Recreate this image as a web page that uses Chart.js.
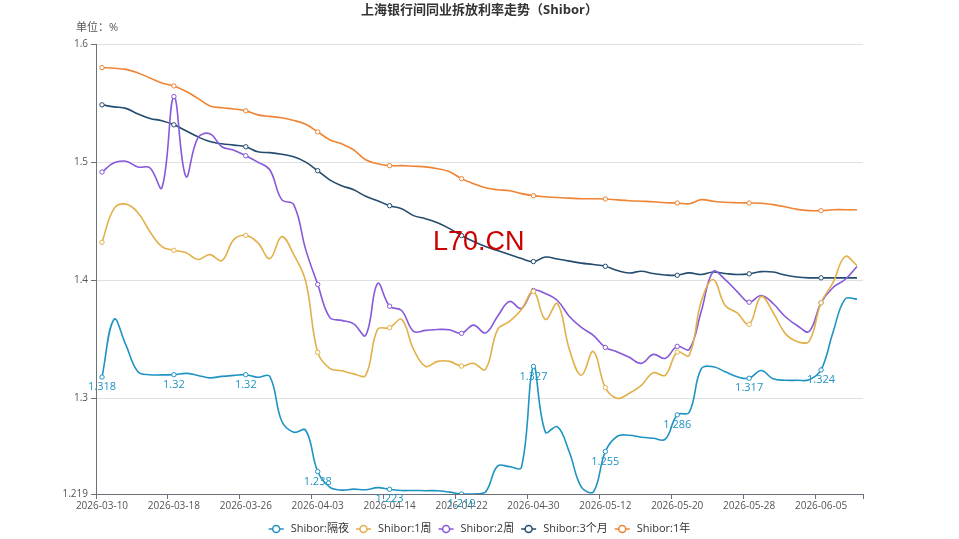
<!DOCTYPE html>
<html>
<head>
<meta charset="utf-8">
<script src="https://cdn.jsdelivr.net/npm/chart.js@4/dist/chart.umd.min.js"></script>
<style>
    html, body { margin: 0; padding: 0; background: #fff; }
    canvas { display: block; }
</style>
</head>
<body>
<canvas id="shibor" width="959" height="539"></canvas>
<script>
var FONT = '"Open Sans", "Noto Sans CJK SC", sans-serif';

var dates = ['2026-03-10','2026-03-11','2026-03-12','2026-03-13','2026-03-16','2026-03-17','2026-03-18','2026-03-19','2026-03-20','2026-03-23',
    '2026-03-24','2026-03-25','2026-03-26','2026-03-27','2026-03-30','2026-03-31','2026-04-01','2026-04-02','2026-04-03','2026-04-07',
    '2026-04-08','2026-04-09','2026-04-10','2026-04-13','2026-04-14','2026-04-15','2026-04-16','2026-04-17','2026-04-20','2026-04-21',
    '2026-04-22','2026-04-23','2026-04-24','2026-04-27','2026-04-28','2026-04-29','2026-04-30','2026-05-06','2026-05-07','2026-05-08',
    '2026-05-09','2026-05-11','2026-05-12','2026-05-13','2026-05-14','2026-05-15','2026-05-18','2026-05-19','2026-05-20','2026-05-21',
    '2026-05-22','2026-05-25','2026-05-26','2026-05-27','2026-05-28','2026-05-29','2026-06-01','2026-06-02','2026-06-03','2026-06-04',
    '2026-06-05','2026-06-08','2026-06-09','2026-06-10'];

var overnight = [1.318,1.3668,1.345,1.3225,1.3199,1.3199,1.32,1.3211,1.3194,1.3173,
    1.3186,1.3194,1.32,1.3178,1.3186,1.2806,1.2713,1.273,1.238,1.2248,
    1.2223,1.2231,1.2226,1.2244,1.223,1.2219,1.222,1.2218,1.2218,1.2206,
    1.219,1.219,1.2206,1.2426,1.2422,1.2417,1.327,1.2713,1.276,1.2544,
    1.2248,1.2206,1.255,1.2679,1.2687,1.267,1.2662,1.2654,1.286,1.2882,
    1.325,1.3267,1.3225,1.3183,1.317,1.3235,1.3165,1.3153,1.3153,1.3157,
    1.324,1.356,1.384,1.384];

var week1 = [1.4321,1.4606,1.4644,1.4572,1.4411,1.4285,1.4253,1.4234,1.4175,1.4217,
    1.4166,1.4344,1.438,1.4318,1.4183,1.4369,1.4217,1.3989,1.3389,1.3254,
    1.3233,1.3207,1.3195,1.3583,1.3598,1.3668,1.3414,1.327,1.3313,1.3313,
    1.3273,1.3296,1.3245,1.358,1.3651,1.3752,1.3906,1.3668,1.3803,1.3414,
    1.3195,1.3397,1.3091,1.3,1.3043,1.311,1.3216,1.3195,1.3392,1.3364,
    1.382,1.4006,1.3786,1.3723,1.3626,1.3862,1.3727,1.355,1.3482,1.3482,
    1.3809,1.398,1.42,1.4124];

var week2 = [1.4916,1.4994,1.5007,1.4958,1.4952,1.4783,1.5555,1.4879,1.5206,1.524,
    1.513,1.51,1.5054,1.5,1.4935,1.4682,1.464,1.4259,1.3964,1.3685,
    1.366,1.3631,1.3533,1.3972,1.378,1.3744,1.3567,1.3575,1.3583,1.358,
    1.355,1.362,1.3554,1.3693,1.382,1.3761,1.3913,1.3887,1.3828,1.3693,
    1.36,1.3533,1.3431,1.3393,1.3347,1.3296,1.3372,1.3338,1.344,1.3414,
    1.3735,1.4073,1.4006,1.3904,1.3814,1.3871,1.3803,1.3693,1.3617,1.3566,
    1.3809,1.3938,1.4006,1.4116];

var month3 = [1.5485,1.5468,1.5455,1.5408,1.537,1.535,1.5316,1.5265,1.5214,1.5174,
    1.5155,1.5144,1.513,1.5087,1.508,1.5066,1.5045,1.5,1.4927,1.485,
    1.48,1.4766,1.4711,1.4673,1.4631,1.4606,1.4547,1.4521,1.4487,1.4437,
    1.4378,1.4327,1.4285,1.4251,1.4217,1.4183,1.4158,1.4196,1.4179,1.4162,
    1.4145,1.4133,1.4118,1.4082,1.4061,1.4076,1.4057,1.4044,1.4042,1.4062,
    1.4048,1.4069,1.4057,1.4048,1.4054,1.4073,1.4069,1.4044,1.4027,1.402,
    1.402,1.402,1.402,1.402];

var year1 = [1.58,1.5795,1.5785,1.5755,1.5713,1.567,1.5645,1.56,1.554,1.5476,
    1.546,1.545,1.5434,1.54,1.5387,1.5375,1.5353,1.532,1.5256,1.519,
    1.5155,1.5104,1.502,1.4986,1.497,1.497,1.4965,1.496,1.4944,1.4918,
    1.486,1.4817,1.4783,1.4766,1.4758,1.4733,1.4716,1.4707,1.47,1.4695,
    1.469,1.469,1.4688,1.468,1.4673,1.4669,1.4665,1.4656,1.4654,1.4648,
    1.4682,1.4669,1.466,1.4656,1.4654,1.4652,1.464,1.4622,1.46,1.4589,
    1.4589,1.4597,1.4597,1.4597];

var seriesNames = ['Shibor:隔夜', 'Shibor:1周', 'Shibor:2周', 'Shibor:3个月', 'Shibor:1年'];
var seriesColors = ['#1f93c2', '#e2b04a', '#8659d9', '#244c6e', '#ee8434'];
var yTicks = [1.219, 1.3, 1.4, 1.5, 1.6];
var labelStep = 6;

function makeDataset(i, values) {
    return {
        label: seriesNames[i],
        data: values,
        borderColor: seriesColors[i],
        backgroundColor: seriesColors[i],
        borderWidth: 1.6,
        tension: 0.4,
        fill: false,
        pointRadius: function (c) { return c.dataIndex % labelStep === 0 ? 2.2 : 0; },
        pointHoverRadius: 0,
        pointBackgroundColor: '#fff',
        pointBorderColor: seriesColors[i],
        pointBorderWidth: 1
    };
}

var decor = {
    id: 'decor',
    afterDraw: function (chart) {
        var ctx = chart.ctx;
        ctx.save();

        // title and unit
        ctx.fillStyle = '#333';
        ctx.font = 'bold 13px ' + FONT;
        ctx.textAlign = 'center';
        ctx.textBaseline = 'middle';
        ctx.fillText('上海银行间同业拆放利率走势（Shibor）', 479.5, 10);
        ctx.fillStyle = '#555';
        ctx.font = '11px ' + FONT;
        ctx.textAlign = 'left';
        ctx.fillText('单位：%', 76, 28);

        // value labels on the overnight series
        var meta = chart.getDatasetMeta(0);
        ctx.font = '11px ' + FONT;
        ctx.fillStyle = seriesColors[0];
        ctx.textAlign = 'center';
        meta.data.forEach(function (pt, i) {
            if (i % labelStep === 0) {
                ctx.fillText(String(overnight[i]), pt.x, pt.y + 10);
            }
        });

        // watermark
        ctx.fillStyle = '#cc0000';
        ctx.font = '27px "Liberation Sans", sans-serif';
        ctx.textAlign = 'left';
        ctx.textBaseline = 'alphabetic';
        ctx.fillText('L70.CN', 433, 250);

        // legend
        ctx.font = '11px ' + FONT;
        ctx.textBaseline = 'middle';
        var iconW = 15, gap = 7, itemGap = 7, ly = 529;
        var widths = seriesNames.map(function (n) { return ctx.measureText(n).width; });
        var total = widths.reduce(function (a, w) { return a + iconW + gap + w; }, 0) + itemGap * (seriesNames.length - 1);
        var x = 479.5 - total / 2;
        seriesNames.forEach(function (n, i) {
            ctx.strokeStyle = seriesColors[i];
            ctx.lineWidth = 1.5;
            ctx.beginPath();
            ctx.moveTo(x, ly);
            ctx.lineTo(x + iconW, ly);
            ctx.stroke();
            ctx.beginPath();
            ctx.arc(x + iconW / 2, ly, 3.5, 0, Math.PI * 2);
            ctx.fillStyle = '#fff';
            ctx.fill();
            ctx.stroke();
            ctx.fillStyle = '#333';
            ctx.fillText(n, x + iconW + gap, ly);
            x += iconW + gap + widths[i] + itemGap;
        });
        ctx.restore();
    }
};

function xTickColor(c) {
    if (c.type !== 'tick' || c.index % labelStep === 0) {
        return '#6e7079';
    }
    return 'rgba(0,0,0,0)';
}

const graphic = new Chart(document.getElementById('shibor'), {
    type: 'line',
    data: {
        labels: dates,
        datasets: [
            makeDataset(0, overnight),
            makeDataset(1, week1),
            makeDataset(2, week2),
            makeDataset(3, month3),
            makeDataset(4, year1)
        ]
    },
    options: {
        responsive: false,
        animation: false,
        devicePixelRatio: 1,
        layout: {
            padding: {left: 0, right: 96, top: 44, bottom: 15}
        },
        plugins: {
            legend: {display: false},
            tooltip: {enabled: false}
        },
        scales: {
            x: {
                offset: true,
                grid: {
                    offset: true,
                    drawOnChartArea: false,
                    tickLength: 5,
                    color: xTickColor,
                    tickColor: xTickColor
                },
                border: {color: '#6e7079'},
                ticks: {
                    autoSkip: false,
                    maxRotation: 0,
                    padding: 1,
                    color: '#555',
                    font: {family: FONT, size: 10},
                    callback: function (v, i) {
                        return i % labelStep === 0 ? dates[i] : '';
                    }
                },
                afterFit: function (s) { s.height = 30; }
            },
            y: {
                min: 1.219,
                max: 1.6,
                afterBuildTicks: function (s) {
                    s.ticks = yTicks.map(function (v) { return {value: v}; });
                },
                grid: {
                    color: '#e0e0e0',
                    tickColor: '#6e7079',
                    tickLength: 5
                },
                border: {color: '#6e7079'},
                ticks: {
                    padding: 3,
                    color: '#555',
                    font: {family: FONT, size: 10},
                    callback: function (v) { return String(v); }
                },
                afterFit: function (s) { s.width = 96; }
            }
        }
    },
    plugins: [decor]
});
</script>
</body>
</html>
